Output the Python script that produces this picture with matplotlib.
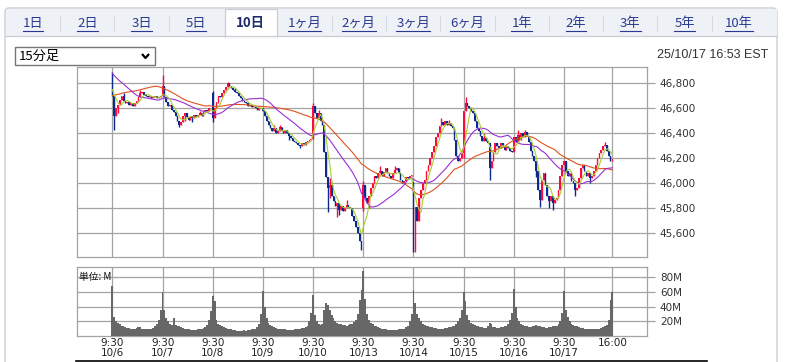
import numpy as np
import pandas as pd
import matplotlib
matplotlib.use("Agg")
import matplotlib.pyplot as plt
from matplotlib.patches import Rectangle, FancyBboxPatch
from matplotlib.ticker import FuncFormatter, FixedLocator

plt.rcParams['font.family'] = ['Noto Sans CJK JP', 'DejaVu Sans']

# ---------------- data ----------------
days = ['10/6', '10/7', '10/8', '10/9', '10/10', '10/13', '10/14', '10/15', '10/16', '10/17']
bars_per_day = 27  # 9:30 ... 16:00, 15-minute bars
day_open = [46840, 46700, 46720, 46600, 46358, 45800, 46010, 46240, 46253, 46150]

close_1006 = [46700, 46540, 46600, 46630, 46670, 46700, 46660, 46640, 46650, 46630, 46640, 46620, 46640, 46660,
              46690, 46720, 46730, 46710, 46700, 46690, 46700, 46680, 46690, 46700, 46680, 46690, 46695]
close_1007 = [46780, 46690, 46650, 46620, 46630, 46590, 46570, 46540, 46500, 46470, 46490, 46540, 46560, 46530,
              46510, 46540, 46520, 46550, 46530, 46550, 46560, 46540, 46570, 46590, 46580, 46600, 46602]
close_1008 = [46520, 46600, 46650, 46700, 46690, 46720, 46750, 46770, 46800, 46780, 46760, 46750, 46730, 46720,
              46700, 46680, 46660, 46650, 46640, 46620, 46630, 46610, 46620, 46600, 46590, 46600, 46602]
close_1009 = [46580, 46540, 46500, 46470, 46440, 46420, 46440, 46400, 46420, 46450, 46420, 46400, 46430, 46400,
              46380, 46360, 46340, 46330, 46320, 46310, 46300, 46320, 46310, 46330, 46340, 46350, 46358]
close_1010 = [46620, 46560, 46520, 46560, 46500, 46470, 46250, 46050, 45960, 45990, 45900, 45860, 45820, 45840,
              45790, 45820, 45780, 45800, 45830, 45810, 45800, 45740, 45700, 45650, 45600, 45540, 45480]
close_1013 = [45990, 45880, 45840, 45900, 45960, 46000, 46060, 46040, 46080, 46100, 46060, 46090, 46120, 46080,
              46060, 46040, 46080, 46110, 46120, 46080, 46030, 46000, 46020, 46050, 46040, 46060, 46067]
close_1014 = [45500, 45810, 45700, 45880, 45950, 46000, 46030, 46100, 46150, 46200, 46250, 46300, 46370, 46400,
              46460, 46490, 46470, 46500, 46470, 46480, 46460, 46440, 46350, 46220, 46180, 46200, 46240]
close_1015 = [46580, 46640, 46620, 46600, 46580, 46560, 46500, 46440, 46420, 46380, 46340, 46360, 46340, 46320,
              46120, 46180, 46250, 46320, 46300, 46280, 46320, 46300, 46270, 46300, 46280, 46260, 46253]
close_1016 = [46370, 46330, 46390, 46350, 46400, 46370, 46410, 46380, 46330, 46260, 46220, 46180, 46100, 45950,
              45870, 46030, 46080, 45990, 45900, 45860, 45900, 45840, 45870, 45880, 45950, 46060, 46150]
close_1017 = [46180, 46100, 46060, 46080, 46020, 46000, 45950, 45960, 46040, 46120, 46150, 46100, 46060, 46080,
              46040, 46060, 46100, 46150, 46200, 46240, 46270, 46300, 46310, 46260, 46220, 46180, 46195]

# closes before the window (read back from where the averages start)
prev_1002_tail = [46430, 46450, 46470, 46460, 46480, 46500, 46490, 46510, 46520, 46500, 46510,
                  46530, 46520, 46510, 46530, 46540, 46520, 46500, 46510, 46530, 46520, 46519]
prev_1003 = [46600, 46700, 46850, 46950, 47000, 47020, 46990, 46980, 46970, 46990, 46980, 46960, 46950, 46960,
             46940, 46930, 46900, 46860, 46800, 46780, 46760, 46750, 46760, 46740, 46770, 46780, 46758]

# visible wick extremes (day index, bar index) -> price
wick_high = {(0, 0): 46890, (0, 6): 46720, (0, 15): 46750, (1, 0): 46870, (1, 1): 46720, (1, 20): 46580,
             (2, 0): 46740, (2, 8): 46810, (2, 12): 46760, (3, 6): 46470, (3, 9): 46470, (4, 0): 46645,
             (4, 3): 46590, (4, 9): 46040, (4, 18): 45870, (5, 0): 46020, (5, 9): 46140, (5, 17): 46140,
             (6, 15): 46520, (6, 19): 46510, (7, 1): 46693, (7, 11): 46400, (8, 2): 46430, (8, 6): 46430,
             (9, 22): 46333}
wick_low = {(0, 1): 46430, (0, 3): 46560, (1, 9): 46450, (1, 12): 46500, (1, 16): 46490, (2, 0): 46490,
            (2, 3): 46640, (3, 14): 46350, (3, 20): 46282, (4, 8): 45770, (4, 9): 45880, (4, 13): 45730,
            (4, 14): 45750, (4, 26): 45470, (5, 0): 45780, (5, 3): 45800, (6, 0): 45453, (6, 1): 45453,
            (7, 0): 46200, (7, 14): 46030, (8, 12): 46050, (8, 14): 45810, (8, 19): 45800, (8, 21): 45790,
            (9, 6): 45900, (9, 14): 46000}

# volume, millions of shares per bar
vol_1006 = [68, 26, 21, 18, 16, 14, 13, 12, 11, 11, 10, 10, 10, 11, 12, 12, 10, 9, 9, 9, 10, 10, 11, 13, 16, 22, 35]
vol_1007 = [60, 35, 25, 20, 17, 15, 24, 15, 14, 13, 12, 11, 10, 9, 9, 8, 8, 8, 8, 9, 9, 10, 11, 12, 15, 22, 34]
vol_1008 = [54, 48, 22, 17, 15, 13, 12, 11, 10, 9, 9, 8, 8, 7, 7, 7, 7, 8, 7, 8, 8, 9, 9, 10, 12, 16, 30]
vol_1009 = [61, 40, 24, 18, 15, 13, 12, 11, 10, 10, 9, 9, 9, 8, 8, 8, 8, 9, 9, 10, 10, 11, 11, 12, 14, 20, 32]
vol_1010 = [56, 28, 20, 17, 15, 16, 36, 45, 42, 35, 28, 24, 20, 18, 17, 16, 15, 15, 14, 15, 16, 17, 19, 22, 30, 49, 63]
vol_1013 = [88, 50, 30, 22, 18, 16, 14, 13, 12, 11, 10, 9, 9, 8, 8, 8, 8, 8, 8, 9, 9, 10, 10, 12, 14, 20, 30]
vol_1014 = [62, 45, 30, 24, 20, 17, 15, 14, 13, 12, 12, 11, 11, 10, 10, 10, 10, 11, 11, 12, 12, 13, 14, 16, 20, 25, 35]
vol_1015 = [60, 48, 28, 22, 18, 16, 15, 14, 13, 12, 12, 11, 11, 14, 18, 16, 12, 12, 11, 11, 12, 12, 13, 14, 17, 22, 32]
vol_1016 = [64, 40, 25, 20, 17, 15, 14, 13, 12, 12, 13, 14, 15, 14, 13, 12, 12, 11, 11, 12, 12, 13, 13, 14, 16, 21, 32]
vol_1017 = [61, 35, 26, 20, 17, 15, 14, 13, 12, 11, 11, 10, 10, 10, 9, 9, 9, 10, 10, 10, 11, 12, 13, 15, 22, 49, 60]

ma_periods = [5, 25, 50]

price_ticks = [45600, 45800, 46000, 46200, 46400, 46600, 46800]
vol_ticks = [20, 40, 60, 80]
tabs = ['1日', '2日', '3日', '5日', '10日', '1ヶ月', '2ヶ月', '3ヶ月', '6ヶ月', '1年', '2年', '3年', '5年', '10年']
selected_tab = '10日'
timeframe = '15分足'
stamp = '25/10/17 16:53 EST'

# ---------------- assemble ----------------
closes_by_day = [close_1006, close_1007, close_1008, close_1009, close_1010,
                 close_1013, close_1014, close_1015, close_1016, close_1017]
vols_by_day = [vol_1006, vol_1007, vol_1008, vol_1009, vol_1010,
               vol_1013, vol_1014, vol_1015, vol_1016, vol_1017]
O, C, Hh, Ll, V = [], [], [], [], []
for d, cl in enumerate(closes_by_day):
    for k, c in enumerate(cl):
        o = day_open[d] if k == 0 else cl[k - 1]
        O.append(o); C.append(c)
        Hh.append(max(o, c, wick_high.get((d, k), 0)))
        Ll.append(min(o, c, wick_low.get((d, k), 1e9)))
    V.extend(vols_by_day[d])
O, C, Hh, Ll, V = map(np.array, (O, C, Hh, Ll, V))
x = np.arange(len(C))

history = pd.Series(prev_1002_tail + prev_1003 + list(C), dtype=float)
mas = [history.rolling(n).mean().values[-len(C):] for n in ma_periods]

# ---------------- figure ----------------
W, H = 785, 362
fig = plt.figure(figsize=(W / 100, H / 100), dpi=100)


def axrect(l, t, r, b):
    return [l / W, 1 - b / H, (r - l) / W, (b - t) / H]


bg = fig.add_axes([0, 0, 1, 1], zorder=0)
bg.set_xlim(0, W); bg.set_ylim(H, 0); bg.axis('off')

frame_c = '#c9ced6'
bg.add_patch(FancyBboxPatch((5, 8), 772, 380, boxstyle='round,pad=0,rounding_size=4',
                            fc='white', ec=frame_c, lw=1))
bg.add_patch(Rectangle((5.5, 8.5), 771, 27.5, fc='#eef1f6', ec='none'))
bg.plot([5.5, 776.5], [36, 36], color=frame_c, lw=0.9)

tab_x0, tab_dx = 33, 54.3
sel_i = tabs.index(selected_tab)
sx = tab_x0 + sel_i * tab_dx
bg.add_patch(Rectangle((sx - 25, 9), 52, 28, fc='white', ec=frame_c, lw=0.9))
bg.add_patch(Rectangle((sx - 24.5, 34), 51, 4, fc='white', ec='none'))
for i in range(len(tabs)):
    sep = tab_x0 + (i + 0.5) * tab_dx
    if i in (sel_i - 1, sel_i) or i == len(tabs) - 1:
        continue
    bg.plot([sep, sep], [16, 31], color='#d5d9e0', lw=0.8)

tab_texts = []
for i, t in enumerate(tabs):
    cx = tab_x0 + i * tab_dx
    if i == sel_i:
        bg.text(cx, 23.5, t, ha='center', va='center', fontsize=9.5, fontweight='bold', color='#1d2a6b')
    else:
        tab_texts.append(bg.text(cx, 23.5, t, ha='center', va='center', fontsize=9.5, color='#2a3990'))

bg.add_patch(Rectangle((15, 47), 140, 18, fc='white', ec='#767676', lw=1))
bg.text(19, 56.5, timeframe, ha='left', va='center', fontsize=9.5, color='black')
bg.plot([142, 145.5, 149], [54, 58, 54], color='black', lw=1.6, solid_capstyle='butt')
bg.text(768, 55.5, stamp, ha='right', va='center', fontsize=9, color='#333333',
        family=['Liberation Sans', 'DejaVu Sans'])
bg.plot([76, 707], [361, 361], color='black', lw=1.2)

# ---------------- price panel ----------------
grid_c = '#a3a3a3'
x_left, x_right = -19.2, 287.8
day_grid = [d * bars_per_day for d in range(len(days))] + [len(C) - 1]

ax = fig.add_axes(axrect(76.7, 66.7, 647.3, 256.5), zorder=2)
ax.set_xlim(x_left, x_right)
ax.set_ylim(45416, 46933)
up = C >= O
col = np.where(up, '#ff0a3c', '#0b2a8f')
ax.vlines(x, Ll, Hh, colors=col, lw=1.0, zorder=3)
body_h = np.where(np.abs(C - O) < 3, 3, np.abs(C - O))
ax.bar(x, body_h, bottom=np.minimum(O, C), width=0.88, color=col, lw=0, zorder=3)
ma_colors = ['#a9cf2f', '#9a2fd2', '#e0521c']
for m, c_, z in zip(mas[::-1], ma_colors[::-1], [4, 4, 5]):
    ax.plot(x, m, color=c_, lw=0.8, zorder=z)

ax.xaxis.set_major_locator(FixedLocator(day_grid))
ax.yaxis.set_major_locator(FixedLocator(price_ticks))
ax.yaxis.set_major_formatter(FuncFormatter(lambda v, p: f'{v:,.0f}'))
ax.yaxis.tick_right()
ax.tick_params(axis='x', length=0, labelbottom=False)
ax.tick_params(axis='y', length=6, width=0.9, color=grid_c, labelsize=7.5, labelcolor='#333333', pad=3)
for lab in ax.get_yticklabels():
    lab.set_family('DejaVu Sans')
ax.grid(True, color=grid_c, lw=0.9, zorder=1)
ax.set_axisbelow(True)
for s in ax.spines.values():
    s.set_color(grid_c); s.set_linewidth(0.9)

# ---------------- volume panel ----------------
av = fig.add_axes(axrect(76.7, 267.3, 647.3, 336), zorder=2)
av.set_xlim(x_left, x_right)
av.set_ylim(0, 93.6)
av.bar(x, V, width=1.0, color='#676767', lw=0, zorder=3)
av.xaxis.set_major_locator(FixedLocator(day_grid))
av.set_xticklabels([f'9:30\n{d}' for d in days] + ['16:00'])
av.yaxis.set_major_locator(FixedLocator(vol_ticks))
av.yaxis.set_major_formatter(FuncFormatter(lambda v, p: f'{v:.0f}M'))
av.yaxis.tick_right()
av.tick_params(axis='x', length=0, labelsize=7.5, pad=1.5, labelcolor='#222222')
av.tick_params(axis='y', length=6, width=0.9, color=grid_c, labelsize=7.5, labelcolor='#333333', pad=3)
for lab in av.get_xticklabels() + av.get_yticklabels():
    lab.set_family('DejaVu Sans')
    lab.set_linespacing(1.05)
av.grid(True, color=grid_c, lw=0.9, zorder=1)
av.set_axisbelow(True)
for s in av.spines.values():
    s.set_color(grid_c); s.set_linewidth(0.9)
av.text(0.004, 0.86, '単位: M', transform=av.transAxes, fontsize=7, color='#111111',
        ha='left', va='center', zorder=5)

fig.canvas.draw()
inv = bg.transData.inverted()
for t in tab_texts:
    bb = t.get_window_extent()
    (x0, y0), (x1, y1) = inv.transform([(bb.x0, bb.y0), (bb.x1, bb.y1)])
    bg.plot([x0, x1], [y0 + 0.5, y0 + 0.5], color='#2a3990', lw=0.8)

fig.savefig('out.png', dpi=100)
